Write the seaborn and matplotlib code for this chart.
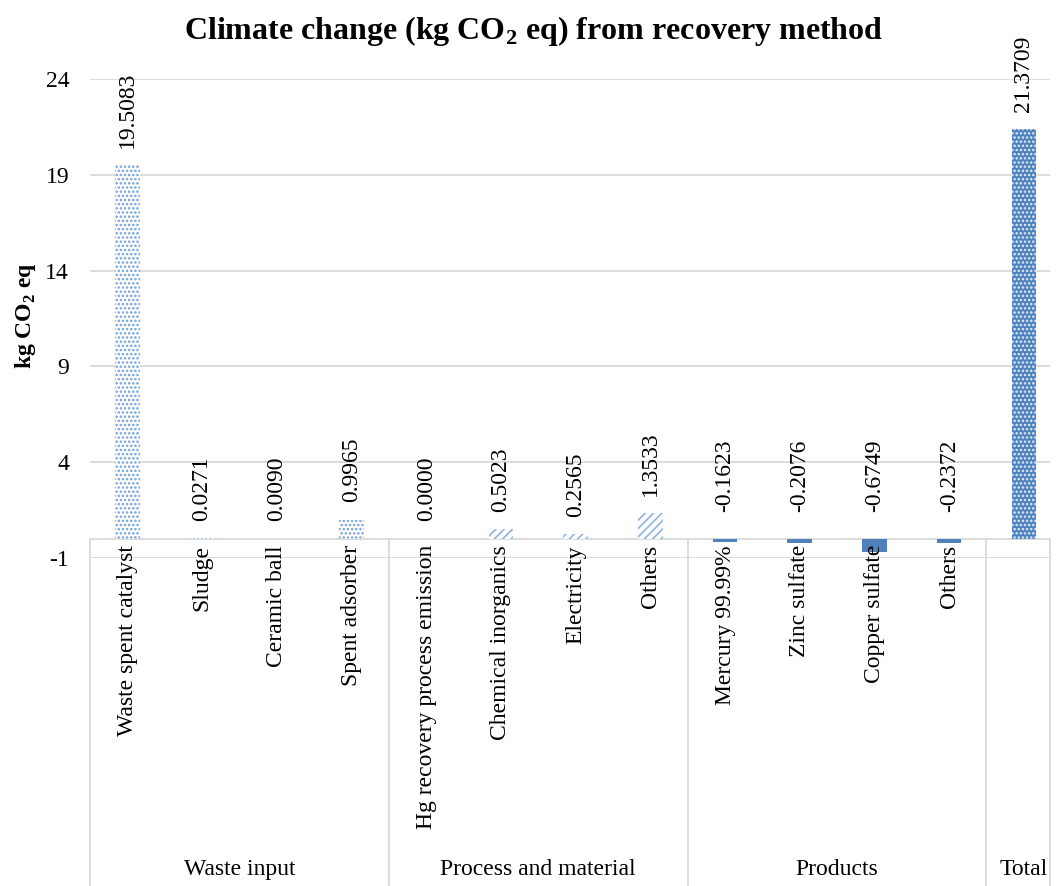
import matplotlib
matplotlib.use("Agg")
import matplotlib.pyplot as plt
import seaborn as sns
import pandas as pd

categories = ["Waste spent catalyst", "Sludge", "Ceramic ball", "Spent adsorber",
              "Hg recovery process emission", "Chemical inorganics", "Electricity", "Others",
              "Mercury 99.99%", "Zinc sulfate", "Copper sulfate", "Others", ""]
groups = ["Waste input"] * 4 + ["Process and material"] * 4 + ["Products"] * 4 + ["Total"]
values = [19.5083, 0.0271, 0.0090, 0.9965,
          0.0000, 0.5023, 0.2565, 1.3533,
          -0.1623, -0.2076, -0.6749, -0.2372,
          21.3709]
group_names = ["Waste input", "Process and material", "Products", "Total"]
yticks = [-1, 4, 9, 14, 19, 24]

sns.set_theme(style="white")
plt.rcParams['font.family'] = ['Liberation Serif', 'DejaVu Serif']
plt.rcParams['mathtext.fontset'] = 'custom'
plt.rcParams['mathtext.rm'] = 'Liberation Serif'
plt.rcParams['mathtext.bf'] = 'Liberation Serif:bold'
plt.rcParams['hatch.linewidth'] = 1.2
plt.rcParams['text.color'] = 'black'
plt.rcParams['ytick.color'] = 'black'
plt.rcParams['xtick.color'] = 'black'

FS = 17
W, H = 1059, 886
fig = plt.figure(figsize=(W / 100, H / 100), dpi=100)
ax = fig.add_axes([90 / W, 1 - 558 / H, (1050 - 90) / W, (558 - 79) / H])

keys = [f"{g}|{c}|{i}" for i, (g, c) in enumerate(zip(groups, categories))]
df = pd.DataFrame({"key": keys, "value": values, "group": groups})
pal = {"Waste input": "white", "Process and material": "white",
       "Products": "#4F81BD", "Total": "#4F81BD"}
sns.barplot(data=df, x="key", y="value", hue="group", palette=pal, order=keys,
            hue_order=group_names, dodge=False, width=0.33, legend=False, ax=ax,
            zorder=3)

for p in ax.patches:
    idx = int(round(p.get_x() + p.get_width() / 2))
    if idx < 0 or idx >= len(groups):
        continue
    g = groups[idx]
    p.set_linewidth(0)
    if g == "Waste input":
        p.set_facecolor("white"); p.set_edgecolor("#6F9FDA"); p.set_hatch("....")
    elif g == "Process and material":
        p.set_facecolor("white"); p.set_edgecolor("#8DB3E2"); p.set_hatch("////")
    elif g == "Products":
        p.set_facecolor("#4F81BD"); p.set_edgecolor("#4F81BD")
    else:
        p.set_facecolor("#4F81BD"); p.set_edgecolor("#E4ECF7"); p.set_hatch("....")

ax.set_xlim(-0.5, 12.35)
ax.set_ylim(-1, 24)
ax.set_yticks(yticks)
ax.set_yticklabels([str(t) for t in yticks], fontsize=FS)
ax.tick_params(axis="y", length=0, pad=15, colors="black")
ax.set_xticks([])
ax.set_xlabel("")
ax.set_ylabel("")
for s in ax.spines.values():
    s.set_visible(False)
ax.yaxis.grid(True, color="#D9D9D9", linewidth=1.3, zorder=0)
ax.set_axisbelow(True)
ax.axhline(0, color="#D9D9D9", linewidth=1.3, zorder=2)

# data labels
for i, v in enumerate(values):
    off = 12.5 if v >= 0 else 19
    ax.annotate(f"{v:.4f}", xy=(i, max(v, 0)), xytext=(0, off), textcoords="offset points",
                rotation=90, ha="center", va="bottom", fontsize=FS, color="black",
                annotation_clip=False)

# category labels
for i, c in enumerate(categories):
    if c:
        ax.annotate(c, xy=(i, 0), xytext=(0, -4.5), textcoords="offset points",
                    rotation=90, ha="center", va="top", fontsize=FS, color="black",
                    annotation_clip=False)

# group separators and labels
bounds = [-0.5, 3.5, 7.5, 11.5, 12.35]
for b in bounds:
    ax.plot([b, b], [0, -18.5], color="#D9D9D9", linewidth=1.3, clip_on=False, zorder=2)
centers = [1.5, 5.5, 9.5, 12.0]
for gname, cx in zip(group_names, centers):
    ax.annotate(gname, xy=(cx, 0), xytext=(0, -331 * 0.72), textcoords="offset points",
                ha="center", va="center", fontsize=FS, color="black", annotation_clip=False)

fig.text(0.504, 1 - 31 / H, r"Climate change (kg CO$_\mathbf{2}$ eq) from recovery method",
         ha="center", va="center", fontsize=23, fontweight="bold", color="black")
fig.text(25 / W, 1 - 316 / H, r"kg CO$_\mathbf{2}$ eq", rotation=90, ha="center",
         va="center", fontsize=FS, fontweight="bold", color="black")

fig.savefig("out.png", dpi=100)
